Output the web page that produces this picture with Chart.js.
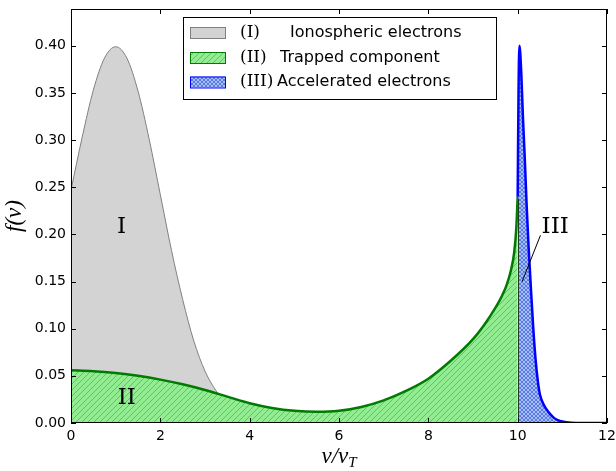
<!DOCTYPE html>
<html>
<head>
<meta charset="utf-8">
<script src="https://cdn.jsdelivr.net/npm/chart.js@4.4.0/dist/chart.umd.min.js"></script>
<style>
  html, body { margin: 0; padding: 0; background: #fff; }
</style>
</head>
<body>
<canvas id="mycanvas" width="616" height="471"></canvas>
<script>
// (I) ionospheric electrons
var vIono = [0, 0.25, 0.5, 0.75, 1, 1.25, 1.5, 1.75, 2, 2.25, 2.5, 2.75, 3, 3.25, 3.5, 3.75, 4];
var fIono = [0.247, 0.303, 0.353, 0.387, 0.399, 0.387, 0.352, 0.301, 0.242, 0.183, 0.131, 0.087, 0.055, 0.034, 0.019, 0.010, 0.005];

// (II) trapped component
var vTrap = [0, 0.5, 1, 1.5, 2, 2.5, 3, 3.5, 4, 4.5, 5, 5.5, 6, 6.5, 7, 7.5, 8, 8.5, 9, 9.25, 9.5, 9.65, 9.75, 9.85, 9.92, 9.97, 10];
var fTrap = [0.056, 0.055, 0.053, 0.050, 0.046, 0.041, 0.035, 0.028, 0.021, 0.016, 0.013, 0.012, 0.013, 0.017, 0.024, 0.034, 0.047, 0.066, 0.089, 0.104, 0.122, 0.135, 0.146, 0.162, 0.180, 0.207, 0.240];

// (III) accelerated electrons
var vAcc = [10, 10.02, 10.04, 10.08, 10.12, 10.16, 10.2, 10.25, 10.3, 10.35, 10.4, 10.45, 10.5, 10.6, 10.7, 10.8, 10.9, 11, 11.2, 11.5, 12];
var fAcc = [0.240, 0.355, 0.400, 0.372, 0.322, 0.280, 0.232, 0.182, 0.140, 0.100, 0.068, 0.045, 0.030, 0.018, 0.011, 0.006, 0.003, 0.0015, 0.0003, 0, 0];

var xTicks = [0, 2, 4, 6, 8, 10, 12];
var yTicks = [0, 0.05, 0.10, 0.15, 0.20, 0.25, 0.30, 0.35, 0.40];

var legendNums = ['(I)', '(II)', '(III)'];
var legendNames = ['Ionospheric electrons', 'Trapped component', 'Accelerated electrons'];
var regionNames = ['I', 'II', 'III'];

function pts(xs, ys) {
  return xs.map(function(x, i) { return {x: x, y: ys[i]}; });
}

function hatch(bg, fg, size, cross) {
  var c = document.createElement('canvas');
  c.width = size; c.height = size;
  var g = c.getContext('2d');
  g.fillStyle = bg;
  g.fillRect(0, 0, size, size);
  g.strokeStyle = fg;
  g.lineWidth = 1;
  g.beginPath();
  g.moveTo(-1, size + 1); g.lineTo(size + 1, -1);
  g.moveTo(-1, 1); g.lineTo(1, -1);
  g.moveTo(size - 1, size + 1); g.lineTo(size + 1, size - 1);
  if (cross) {
    g.moveTo(-1, -1); g.lineTo(size + 1, size + 1);
    g.moveTo(size - 1, -1); g.lineTo(size + 1, 1);
    g.moveTo(-1, size - 1); g.lineTo(1, size + 1);
  }
  g.stroke();
  return g.createPattern(c, 'repeat');
}

var ctx = document.getElementById('mycanvas').getContext('2d');
var greenFill = hatch('#92ec92', '#62c262', 6, false);
var blueFill = hatch('#a6bcf4', '#5a7be4', 4, true);
var grayFill = '#d3d3d3';

var colGray = '#808080', colGreen = '#007a00', colBlue = '#0000ff';

// frame, inward ticks, legend, labels
var decor = {
  id: 'decor',
  afterDraw: function(chart) {
    var c = chart.ctx, a = chart.chartArea;
    var xs = chart.scales.x, ys = chart.scales.y;
    c.save();
    // thin edge of the trapped fill at v = 10
    var lx = xs.getPixelForValue(vTrap[vTrap.length - 1]);
    c.strokeStyle = '#1f3a1f';
    c.lineWidth = 1;
    c.beginPath();
    c.moveTo(Math.round(lx) + 0.5, ys.getPixelForValue(0));
    c.lineTo(Math.round(lx) + 0.5, ys.getPixelForValue(fTrap[fTrap.length - 1]) + 2);
    c.stroke();

    // frame
    c.strokeStyle = '#000';
    c.lineWidth = 1;
    c.strokeRect(a.left + 0.5, a.top + 0.5, a.right - a.left - 1, a.bottom - a.top - 1);
    c.beginPath();
    xTicks.forEach(function(t) {
      var p = Math.round(xs.getPixelForValue(t)) + 0.5;
      c.moveTo(p, a.bottom); c.lineTo(p, a.bottom - 5);
      c.moveTo(p, a.top); c.lineTo(p, a.top + 5);
    });
    yTicks.forEach(function(t) {
      var p = Math.round(ys.getPixelForValue(t)) + 0.5;
      c.moveTo(a.left, p); c.lineTo(a.left + 5, p);
      c.moveTo(a.right, p); c.lineTo(a.right - 5, p);
    });
    c.stroke();

    // region labels
    c.fillStyle = '#000';
    c.font = '23px "DejaVu Serif"';
    c.textAlign = 'center';
    c.textBaseline = 'middle';
    c.fillText(regionNames[0], xs.getPixelForValue(1.13), ys.getPixelForValue(0.208));
    c.fillText(regionNames[1], xs.getPixelForValue(1.25), ys.getPixelForValue(0.027));
    c.fillText(regionNames[2], xs.getPixelForValue(10.84), ys.getPixelForValue(0.208));
    c.beginPath();
    c.moveTo(xs.getPixelForValue(10.51), ys.getPixelForValue(0.199));
    c.lineTo(xs.getPixelForValue(10.10), ys.getPixelForValue(0.150));
    c.stroke();

    // axis titles
    c.font = 'italic 23px "Liberation Serif"';
    c.textAlign = 'left';
    c.textBaseline = 'alphabetic';
    var cx = (a.left + a.right) / 2;
    var w1 = c.measureText('v/v').width;
    c.font = 'italic 15px "Liberation Serif"';
    var w2 = c.measureText('T').width;
    var x0 = cx - (w1 + w2) / 2;
    c.font = 'italic 23px "Liberation Serif"';
    c.fillText('v/v', x0, 463);
    c.font = 'italic 15px "Liberation Serif"';
    c.fillText('T', x0 + w1, 467);

    c.save();
    c.translate(21, (a.top + a.bottom) / 2);
    c.rotate(-Math.PI / 2);
    c.font = 'italic 23px "Liberation Serif"';
    c.textAlign = 'center';
    c.fillText('f(v)', 0, 0);
    c.restore();

    // legend
    var box = {x: 183, y: 17, w: 313, h: 82};
    c.fillStyle = '#fff';
    c.fillRect(box.x, box.y, box.w, box.h);
    c.strokeStyle = '#000';
    c.strokeRect(box.x + 0.5, box.y + 0.5, box.w, box.h);
    var rows = [32.5, 57.5, 82];
    var fills = [grayFill, greenFill, blueFill];
    var edges = [colGray, colGreen, colBlue];
    var nameX = [290, 280, 277];
    rows.forEach(function(ry, i) {
      c.fillStyle = fills[i];
      c.fillRect(190, ry - 5.5, 35, 11);
      c.strokeStyle = edges[i];
      c.lineWidth = 1;
      c.strokeRect(190.5, ry - 5, 35, 11);
      c.fillStyle = '#000';
      c.textBaseline = 'middle';
      c.textAlign = 'left';
      c.font = '17px "DejaVu Serif"';
      c.fillText(legendNums[i], 240, ry);
      c.font = '16px "DejaVu Sans"';
      c.fillText(legendNames[i], nameX[i], ry);
    });
    c.restore();
  }
};

var chart = new Chart(ctx, {
  type: 'line',
  data: {
    datasets: [
      {
        label: legendNames[2],
        data: pts(vAcc, fAcc),
        borderColor: colBlue,
        borderWidth: 2.5,
        backgroundColor: blueFill,
        fill: 'origin',
        cubicInterpolationMode: 'monotone',
        pointRadius: 0,
        order: 1
      },
      {
        label: legendNames[1],
        data: pts(vTrap, fTrap),
        borderColor: colGreen,
        borderWidth: 2.5,
        backgroundColor: greenFill,
        fill: 'origin',
        cubicInterpolationMode: 'monotone',
        pointRadius: 0,
        order: 2
      },
      {
        label: legendNames[0],
        data: pts(vIono, fIono),
        borderColor: colGray,
        borderWidth: 1,
        backgroundColor: grayFill,
        fill: 'origin',
        cubicInterpolationMode: 'monotone',
        pointRadius: 0,
        order: 3
      }
    ]
  },
  options: {
    responsive: false,
    animation: false,
    devicePixelRatio: 1,
    layout: { padding: { left: 0, right: 9, top: 9, bottom: 0 } },
    plugins: {
      legend: { display: false },
      tooltip: { enabled: false }
    },
    scales: {
      x: {
        type: 'linear',
        min: 0,
        max: 12,
        grid: { display: false, drawTicks: false },
        border: { display: false },
        ticks: {
          stepSize: 2,
          padding: 5,
          color: '#000',
          font: { family: 'DejaVu Sans', size: 14 },
          maxRotation: 0
        },
        afterBuildTicks: function(s) { s.ticks = xTicks.map(function(v) { return {value: v}; }); },
        afterFit: function(s) { s.height = 48; s.paddingLeft = 0; s.paddingRight = 0; }
      },
      y: {
        type: 'linear',
        min: 0,
        max: 0.439,
        grid: { display: false, drawTicks: false },
        border: { display: false },
        ticks: {
          padding: 5,
          color: '#000',
          font: { family: 'DejaVu Sans', size: 14 },
          callback: function(v) { return v.toFixed(2); }
        },
        afterBuildTicks: function(s) { s.ticks = yTicks.map(function(v) { return {value: v}; }); },
        afterFit: function(s) { s.width = 71; s.paddingTop = 0; s.paddingBottom = 0; }
      }
    }
  },
  plugins: [decor]
});
</script>
</body>
</html>
